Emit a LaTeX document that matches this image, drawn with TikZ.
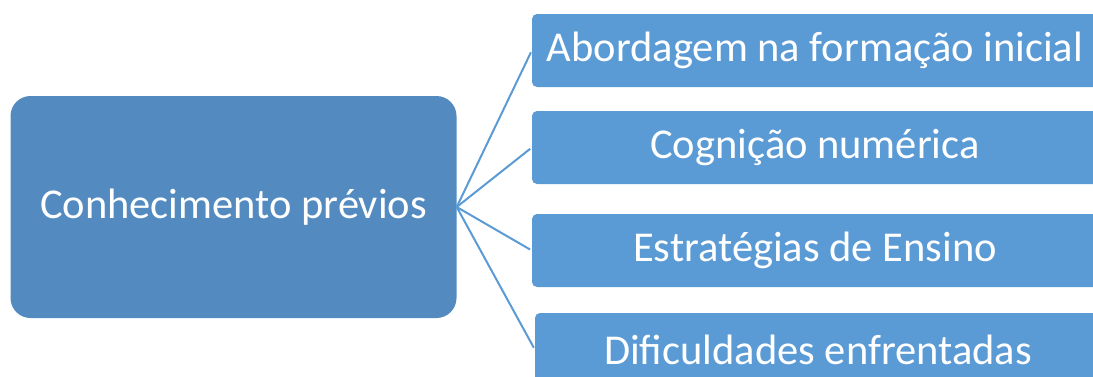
\documentclass[tikz,border=0pt]{standalone}
\usepackage{fontspec}
\setmainfont{Carlito}
\usetikzlibrary{positioning}
\definecolor{hubblue}{RGB}{83,139,193}
\definecolor{itemblue}{RGB}{91,155,213}
\tikzset{
	hubbox/.style={fill=hubblue, rounded corners=20pt, text=white, minimum width=446pt, minimum height=222pt, font=\fontsize{42.5}{50}\selectfont},
	itembox/.style={fill=itemblue, rounded corners=5pt, text=white, minimum width=566pt, minimum height=73pt, font=\fontsize{42.5}{50}\selectfont},
	link/.style={draw=itemblue, line width=2pt, shorten >=2pt}
}

\begin{document}
\begin{tikzpicture}[x=1pt,y=-1pt]
			%%%%% START %%%%%
			\useasboundingbox (0,0) rectangle (1093,376);
			
			\node[hubbox] (hub) at (233.5,207) {Conhecimento prévios};
			
			\node[itembox] (formacao) at (815,50.5) {Abordagem na formação inicial};
			\node[itembox] (cognicao) at (815,147.5) {Cognição numérica};
			\node[itembox] (ensino) at (815,250.5) {Estratégias de Ensino};
			\node[itembox] (dificuldades) at (818,349.5) {Dificuldades enfrentadas};
			
			\draw[link] (hub.east) -- (formacao.west);
			\draw[link] (hub.east) -- (cognicao.west);
			\draw[link] (hub.east) -- (ensino.west);
			\draw[link] (hub.east) -- (dificuldades.west);
			
			%%%%% END %%%%%
\end{tikzpicture}
\end{document}
